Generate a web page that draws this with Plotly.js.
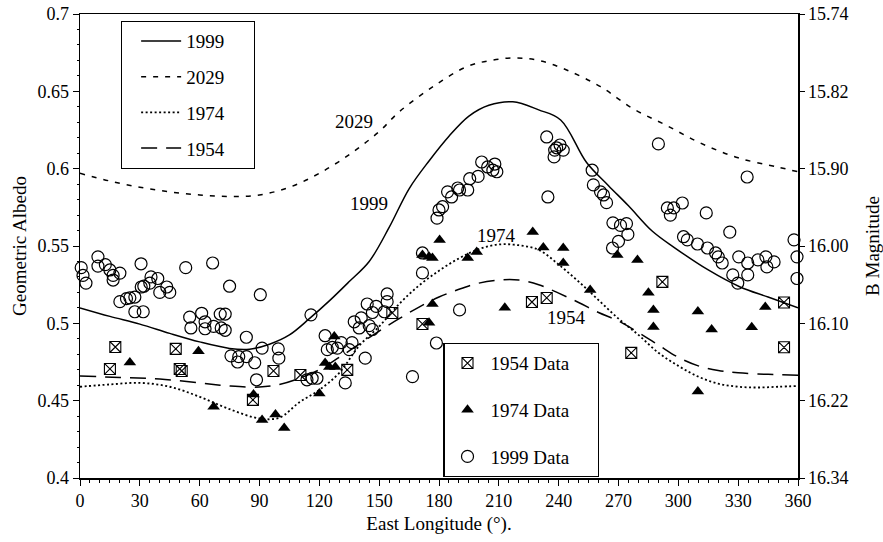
<!DOCTYPE html>
<html><head><meta charset="utf-8">
<script src="https://cdn.plot.ly/plotly-3.0.1.min.js"></script>
<style>html,body{margin:0;padding:0;background:#fff}#chart{width:883px;height:542px}</style>
</head><body><div id="chart"></div>
<script>
// ---- model curves (East longitude, geometric albedo) ----
const c1999Lon = [0,15,30,45,60,75,85,95,105,115,125,135,145,155,165,175,185,195,205,217,230,241,254,265,275,287,298,315,331,345,360];
const c1999Alb = [0.510,0.5045,0.4995,0.4935,0.488,0.4838,0.4833,0.4865,0.4925,0.503,0.5145,0.527,0.540,0.562,0.587,0.605,0.621,0.634,0.641,0.6432,0.638,0.6315,0.604,0.589,0.576,0.5595,0.549,0.5345,0.5235,0.517,0.510];

const c2029Lon = [0,15,30,45,60,75,90,105,120,136,150,160,177,194,206,218,230,244,261,277,294,311,330,350,360];
const c2029Alb = [0.597,0.592,0.588,0.585,0.583,0.582,0.583,0.588,0.597,0.610,0.624,0.6367,0.653,0.666,0.670,0.6716,0.670,0.6638,0.653,0.639,0.628,0.6166,0.607,0.601,0.598];

const c1974Lon = [0,15,30,45,60,75,90,100,110,120,130,140,150,160,170,180,190,200,210,220,230,240,250,260,270,280,290,300,310,320,330,340,350,360];
const c1974Alb = [0.459,0.4605,0.4615,0.459,0.4525,0.4445,0.4385,0.439,0.449,0.457,0.468,0.4855,0.498,0.5125,0.5245,0.534,0.542,0.548,0.551,0.5505,0.5475,0.538,0.527,0.515,0.503,0.4925,0.481,0.4725,0.4655,0.461,0.459,0.4585,0.459,0.4595];

const c1954Lon = [0,20,40,60,75,90,100,110,120,130,140,150,160,170,180,190,200,210,220,230,240,250,260,270,280,290,300,310,320,330,345,360];
const c1954Alb = [0.466,0.465,0.464,0.4615,0.4595,0.4588,0.4605,0.4645,0.470,0.478,0.4865,0.495,0.503,0.5105,0.517,0.522,0.526,0.528,0.528,0.525,0.5195,0.5135,0.507,0.5015,0.494,0.486,0.478,0.4725,0.4695,0.468,0.467,0.4665];

// ---- observations ----
const d1954Lon = [15,17.7,48,50,51,86.7,97,110.5,134,156.6,171.7,226.6,234,276.4,292,353,353];
const d1954Alb = [0.4705,0.4847,0.4835,0.4705,0.4692,0.4505,0.4692,0.4666,0.4699,0.5067,0.4996,0.5138,0.5164,0.4809,0.5268,0.5135,0.4845];

const d1974Lon = [25,59.4,67,87,91.3,98,102.4,120,122.9,125,128,127.5,175,176.7,171.7,175,176.7,180.3,194.4,198.9,213,227,232.3,242.3,242.3,255.8,269.4,279.5,285,287.5,287.5,309.8,316.7,336.8,343.6,309.8];
const d1974Alb = [0.4747,0.482,0.446,0.454,0.4375,0.441,0.4324,0.4547,0.4744,0.4718,0.4718,0.4915,0.5003,0.5125,0.5442,0.543,0.5423,0.5539,0.5423,0.5462,0.510,0.559,0.549,0.5487,0.539,0.5216,0.5442,0.541,0.5197,0.5087,0.4977,0.5077,0.496,0.4974,0.5106,0.456];

const d1999Lon = [0.6,1.5,3,9,9,12.7,15,16.6,16.6,20,20,23.3,25,27.5,27.5,31.7,30.6,30.7,32,35.6,35,39,40,43.5,45,53,55,55.6,61,62.7,62.7,66.5,67,70.3,72.8,70.8,72.8,75,75.7,79.6,79,83.4,83.5,87.6,88.5,90.4,91.3,99.4,99.7,
  115.8,113.8,116.4,118.8,122.9,124,126.5,129,131,133,135,136.4,137.5,140,141,143,144,145,146.6,146.6,148.5,152.6,154,154,166.7,178.7,190.3,171.7,171.7,
  179,180,181.8,184.3,186.3,189.4,190.3,194.4,195.4,199.6,201.4,204.4,208,207,209,
  234,238,240.7,242.3,237.7,239,234.6,
  256.8,257.4,261,262.5,264,267.2,271,274,274.7,270,267,
  290,294.5,297.7,296,302,314,325.8,334.5,
  302.6,304.5,309.6,314.6,318.7,320,322,327.3,329.8,330.3,334.8,334.8,339.9,343.9,344.4,348,358,359.5,359.5];
const d1999Alb = [0.536,0.531,0.526,0.543,0.537,0.538,0.5345,0.531,0.528,0.5325,0.514,0.516,0.5165,0.517,0.5075,0.5075,0.5385,0.5235,0.524,0.530,0.526,0.529,0.520,0.5235,0.520,0.536,0.504,0.497,0.5065,0.501,0.4965,0.539,0.498,0.506,0.506,0.497,0.4955,0.524,0.479,0.4785,0.475,0.491,0.4785,0.4745,0.4635,0.5185,0.484,0.4835,0.4775,
  0.5055,0.4635,0.4645,0.4645,0.492,0.483,0.4845,0.484,0.4875,0.4615,0.483,0.4875,0.501,0.497,0.5035,0.4775,0.5125,0.4985,0.496,0.507,0.511,0.5075,0.519,0.514,0.4655,0.4873,0.5087,0.5455,0.5326,
  0.568,0.5733,0.5754,0.585,0.5817,0.5875,0.5862,0.5862,0.5935,0.595,0.6043,0.6011,0.603,0.599,0.598,
  0.6205,0.612,0.6153,0.612,0.6076,0.6135,0.5817,
  0.599,0.5895,0.585,0.583,0.578,0.565,0.5633,0.5645,0.5575,0.553,0.5487,
  0.616,0.5746,0.5746,0.570,0.5778,0.5714,0.559,0.5946,
  0.556,0.554,0.5513,0.5487,0.5455,0.543,0.539,0.5313,0.526,0.543,0.539,0.5313,0.541,0.543,0.5365,0.5397,0.554,0.543,0.529];

// ---- axis tick labels ----
const albTicks = [0.4,0.45,0.5,0.55,0.6,0.65,0.7];
const bMagLabels = ['16.34','16.22','16.10','16.00','15.90','15.82','15.74'];

// ---- curve labels ----
const labelText = ['2029','1999','1974','1954'];
const labelLon = [137.5,144.8,209,243.7];
const labelAlb = [0.6308,0.5778,0.5565,0.5035];

const FONT = 'Liberation Serif, Times New Roman, serif';
const pad = n => '\u00a0'.repeat(n);

const traces = [
  {x:c1999Lon, y:c1999Alb, mode:'lines', name:'1999'+pad(5), legend:'legend', legendgroup:'g1',
   line:{color:'#000', width:1.5, shape:'spline'}},
  {x:c2029Lon, y:c2029Alb, mode:'lines', name:'2029'+pad(5), legend:'legend', legendgroup:'g2',
   line:{color:'#000', width:1.5, shape:'spline', dash:'5px,7px'}},
  {x:c1974Lon, y:c1974Alb, mode:'lines', name:'1974'+pad(5), legend:'legend', legendgroup:'g3',
   line:{color:'#000', width:1.8, shape:'spline', dash:'2px,2.5px'}},
  {x:c1954Lon, y:c1954Alb, mode:'lines', name:'1954'+pad(5), legend:'legend', legendgroup:'g4',
   line:{color:'#000', width:1.5, shape:'spline', dash:'16px,9px'}},
  {x:d1954Lon, y:d1954Alb, mode:'markers', name:'1954 Data'+pad(5), legend:'legend2', legendgroup:'h1', cliponaxis:false,
   marker:{symbol:'square-x-open', size:11, color:'#000', line:{width:1.1, color:'#000'}}},
  {x:d1974Lon, y:d1974Alb, mode:'markers', name:'1974 Data'+pad(5), legend:'legend2', legendgroup:'h2', cliponaxis:false,
   marker:{symbol:'triangle-up', size:11, color:'#000'}},
  {x:d1999Lon, y:d1999Alb, mode:'markers', name:'1999 Data'+pad(5), legend:'legend2', legendgroup:'h3', cliponaxis:false,
   marker:{symbol:'circle-open', size:12, color:'#000', line:{width:1.2, color:'#000'}}},
  {x:[], y:[], yaxis:'y2', showlegend:false, hoverinfo:'skip'}
];

const annotations = labelText.map((t,i)=>({
  x:labelLon[i], y:labelAlb[i], xref:'x', yref:'y', text:t, showarrow:false,
  font:{family:FONT, size:19, color:'#000'}
}));

const layout = {
  width:883, height:542,
  margin:{l:80, r:85, t:14, b:64},
  paper_bgcolor:'#fff', plot_bgcolor:'#fff',
  font:{family:FONT, size:18, color:'#000'},
  showlegend:true,
  xaxis:{
    range:[0,360], tickmode:'linear', tick0:0, dtick:30,
    ticks:'outside', ticklen:6, tickwidth:1, tickcolor:'#000',
    minor:{dtick:5, ticks:'outside', ticklen:3, tickcolor:'#000'},
    showline:true, linecolor:'#000', linewidth:1.5, mirror:true,
    showgrid:false, zeroline:false,
    tickfont:{family:FONT, size:18},
    title:{text:'East Longitude (°).', font:{family:FONT, size:19}, standoff:6}
  },
  yaxis:{
    range:[0.4,0.7], tickvals:albTicks, ticktext:albTicks.map(String),
    ticks:'outside', ticklen:6, tickwidth:1, tickcolor:'#000',
    minor:{dtick:0.01, ticks:'outside', ticklen:2, tickcolor:'#000'},
    showline:true, linecolor:'#000', linewidth:1.5,
    showgrid:false, zeroline:false,
    tickfont:{family:FONT, size:18},
    title:{text:'Geometric Albedo', font:{family:FONT, size:19}, standoff:6}
  },
  yaxis2:{
    overlaying:'y', side:'right', anchor:'x',
    range:[0.4,0.7], tickvals:albTicks, ticktext:bMagLabels,
    ticks:'outside', ticklen:5, tickwidth:1, tickcolor:'#000',
    showline:true, linecolor:'#000', linewidth:1.5,
    showgrid:false, zeroline:false,
    tickfont:{family:FONT, size:18},
    title:{text:'B Magnitude', font:{family:FONT, size:19}, standoff:18}
  },
  legend:{
    x:0.057, y:0.985, xanchor:'left', yanchor:'top',
    bgcolor:'#fff', bordercolor:'#000', borderwidth:1.2,
    font:{family:FONT, size:19, color:'#000'},
    tracegroupgap:8, itemwidth:40, indentation:14, traceorder:'grouped'
  },
  legend2:{
    x:0.506, y:0.291, xanchor:'left', yanchor:'top',
    bgcolor:'#fff', bordercolor:'#000', borderwidth:1.2,
    font:{family:FONT, size:19, color:'#000'},
    tracegroupgap:19, itemwidth:36, traceorder:'grouped'
  },
  annotations:annotations
};

Plotly.newPlot('chart', traces, layout, {displayModeBar:false, staticPlot:true});
</script></body></html>
